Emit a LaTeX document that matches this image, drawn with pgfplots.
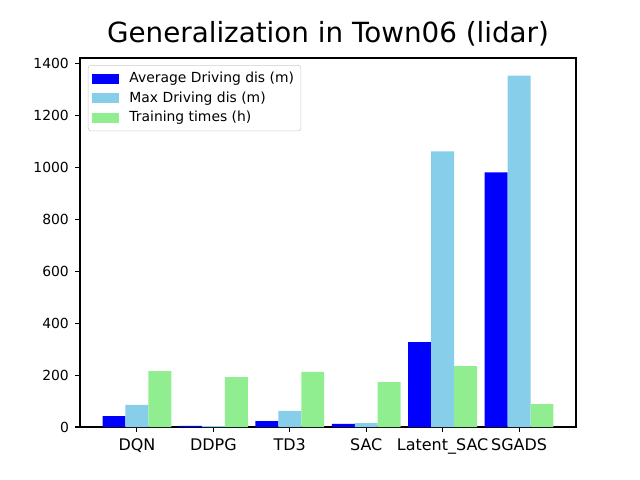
\documentclass[border=0pt]{standalone}
\usepackage{fontspec}
\setmainfont{DejaVu Sans}
\usepackage{pgfplots}
\pgfplotsset{compat=1.18}
\definecolor{mplblue}{RGB}{0,0,255}
\definecolor{skyblue}{RGB}{135,206,235}
\definecolor{lightgreen}{RGB}{144,238,144}
\begin{document}
\begin{tikzpicture}
\path[use as bounding box] (-57.6pt,-38.16pt) rectangle (403.2pt,307.44pt);
\begin{axis}[
  at={(0,0)}, anchor=south west,
  scale only axis, width=357.12pt, height=265.68pt,
  xmin=-0.745, xmax=5.745, ymin=0, ymax=1421.7,
  ybar, bar width=0.3, bar shift=0pt,
  xtick={0,1,2,3,4,5},
  xticklabels={DQN,DDPG,TD3,SAC,Latent\_SAC,SGADS},
  ytick={0,200,400,600,800,1000,1200,1400},
  tick align=outside, xtick pos=bottom, ytick pos=left,
  major tick length=3.5pt,
  tick style={black, line width=0.8pt},
  axis line style={line width=0.8pt},
  /pgf/number format/assume math mode=true,
  /pgf/number format/1000 sep={},
  yticklabel style={font=\fontsize{10}{12}\selectfont, xshift=-1pt},
  xticklabel style={font=\fontsize{11.5}{13}\selectfont, yshift=-1pt},
  title={Generalization in Town06 (lidar)},
  title style={font=\fontsize{20}{24}\selectfont, yshift=-1pt},
  legend cell align=left,
  legend style={at={(0.016,0.981)}, anchor=north west, draw=black!20, rounded corners=2pt,
    fill=white, font=\fontsize{10}{12}\selectfont, inner sep=3pt, row sep=1pt},
  legend image code/.code={\fill[#1, sharp corners] (1.5pt,-3.6pt) rectangle (20.9pt,3.6pt); \path (26.2pt,0pt);},
]
\addplot[fill=mplblue, draw=none] coordinates {(-0.3,42) (0.7,4) (1.7,23) (2.7,12) (3.7,327) (4.7,981)};
\addlegendentry{Average Driving dis (m)}
\addplot[fill=skyblue, draw=none] coordinates {(0,85) (1,3) (2,62) (3,15) (4,1062) (5,1354)};
\addlegendentry{Max Driving dis (m)}
\addplot[fill=lightgreen, draw=none] coordinates {(0.3,215) (1.3,192) (2.3,212) (3.3,173) (4.3,235) (5.3,88)};
\addlegendentry{Training times (h)}
\end{axis}
\end{tikzpicture}
\end{document}
